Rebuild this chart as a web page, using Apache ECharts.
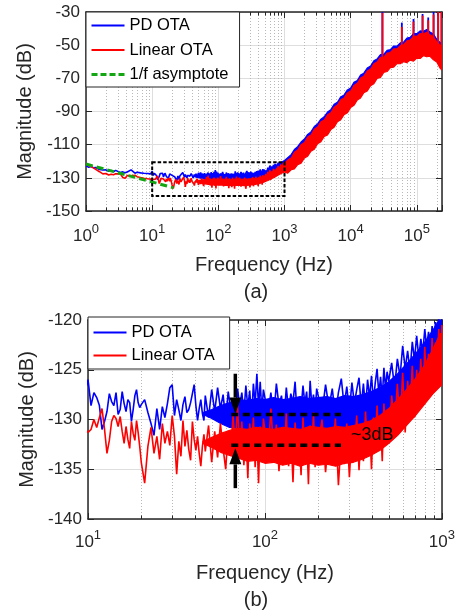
<!DOCTYPE html>
<html><head><meta charset="utf-8">
<script src="https://cdn.jsdelivr.net/npm/echarts@6/dist/echarts.min.js"></script>
<style>html,body{margin:0;padding:0;background:#fff}#c{width:458px;height:611px}</style>
</head><body><div id="c"></div>
<script>
// ---------------- data ----------------
const noiseFreq = [
 1.0,1.1,1.2,1.3,1.4,1.5,1.6,1.7,1.8,1.9,2.0,2.2,2.4,2.6,2.8,3.0,3.3,3.6,3.9,4.2,4.5,4.8,5.1,5.5,5.9,6.3,6.7,7.1,7.5,8.0,8.5,9.0,9.5,
 10.0,10.4,10.8,11.2,11.6,12.0,12.4,12.8,13.2,13.6,14.0,14.4,14.8,15.2,15.6,16.0,16.4,16.8,17.2,17.6,18.0,18.4,18.8,19.2,19.6,
 20.0,20.9,21.8,22.7,23.6,24.5,25.4,26.3,27.2,28.1,29.0,29.9,30.8,31.7,32.6,33.5,34.4,35.3,36.2,37.1,38.0,38.9,39.8,40.7,41.6,42.5,43.4,44.3,45.2,
 46,48,50,52,54,56,58,60,62,64,66,68,70,72,74,76,78,80,82,84,86,88,90,92,94,96,98,
 100,104,108,112,116,120,124,128,132,136,140,144,148,152,156,160,164,168,172,176,180,184,188,192,196,
 200,210,220,230,240,250,260,270,280,290,300,310,320,330,340,350,360,370,380,390,400,410,420,430,440,450,460,470,480,490,
 500,520,540,560,580,600,620,640,660,680,700,720,740,760,780,800,820,840,860,880,900,920,940,960,980,1000];
const pdNoise = [
 -122.8,-123.6,-123.2,-124.0,-123.8,-124.6,-125.0,-124.5,-125.3,-125.8,-125.2,-126.0,-125.6,-126.3,-125.5,-126.2,-126.8,-126.4,-127.0,-126.5,-125.6,-125.2,-126.3,-127.2,-126.6,-127.5,-127.0,-127.8,-127.2,-128.0,-127.4,-128.3,-127.6,
 -126.0,-128.6,-127.3,-127.8,-128.6,-131.0,-130.2,-129.2,-127.4,-128.2,-128.6,-127.3,-129.5,-129.0,-127.2,-128.4,-129.2,-128.0,-128.3,-130.2,-129.0,-127.6,-127.0,-128.3,-128.8,
 -128.5,-128.0,-129.3,-130.4,-131.6,-128.9,-131.0,-128.7,-129.8,-128.4,-126.8,-126.5,-129.6,-128.0,-129.0,-130.1,-128.5,-127.7,-129.3,-129.0,-128.3,-127.4,-126.5,-128.6,-130.1,-128.9,-128.0,-129.4,-130.1,
 -127.6,-129.8,-127.0,-129.2,-126.8,-128.9,-127.5,-130.0,-127.2,-129.0,-127.9,-129.6,-126.9,-128.7,-127.3,-129.4,-126.6,-128.8,-127.1,-129.9,-126.4,-128.5,-125.4,-128.8,-126.2,-129.3,-127.0,
 -126.9,-129.5,-127.3,-129.8,-126.4,-128.6,-127.6,-130.2,-126.8,-129.1,-127.4,-128.3,-126.2,-129.6,-127.8,-129.0,-126.6,-128.4,-127.2,-130.0,-126.1,-128.7,-127.5,-129.3,-126.9,
 -127.1,-129.4,-126.5,-128.8,-126.9,-129.6,-127.3,-125.9,-128.6,-126.7,-129.2,-126.3,-128.4,-127.0,-125.8,-128.7,-126.4,-128.9,-126.0,-127.8,-125.6,-128.2,-126.3,-124.9,-127.5,-125.7,-127.9,-124.8,-126.9,-125.2,
 -126.2,-124.3,-126.8,-123.9,-125.7,-122.6,-124.9,-123.1,-125.2,-122.2,-124.0,-121.6,-123.8,-121.9,-123.3,-120.9,-122.8,-121.2,-123.0,-120.6,-122.1,-120.2,-121.7,-119.8,-121.3,-119.6];
const linNoise = [
 -121.5,-122.6,-123.4,-124.0,-124.9,-125.5,-126.3,-127.0,-127.6,-128.0,-127.4,-128.3,-127.8,-128.2,-127.5,-126.8,-127.6,-129.8,-130.2,-128.6,-127.9,-128.8,-129.5,-128.4,-129.3,-128.6,-129.8,-128.9,-130.2,-129.4,-130.6,-129.7,-130.8,
 -131.3,-131.0,-130.0,-130.8,-129.8,-128.9,-131.0,-133.4,-132.1,-130.2,-129.6,-129.9,-130.7,-129.7,-131.2,-132.4,-130.7,-132.0,-132.9,-130.2,-131.4,-132.1,-130.1,-131.3,-132.7,
 -134.3,-136.4,-132.7,-130.8,-133.4,-131.7,-134.0,-130.4,-132.4,-131.2,-132.6,-129.6,-131.7,-135.5,-132.2,-133.7,-130.1,-132.7,-131.1,-133.0,-134.1,-130.2,-132.0,-133.1,-131.7,-133.4,-134.7,-132.7,-131.5,
 -133.2,-130.6,-134.3,-131.2,-133.8,-130.4,-132.9,-135.0,-131.1,-133.6,-129.6,-132.8,-128.6,-133.4,-130.2,-134.6,-131.0,-135.9,-130.4,-133.1,-129.8,-134.8,-131.3,-136.4,-130.7,-133.5,-129.9,
 -131.2,-134.1,-128.9,-133.3,-130.5,-135.2,-131.6,-133.9,-129.4,-134.7,-131.0,-136.3,-130.3,-133.6,-131.8,-135.6,-129.8,-134.0,-131.4,-136.5,-130.6,-133.2,-129.3,-134.8,-131.5,
 -132.5,-130.0,-135.3,-131.4,-133.9,-129.9,-136.6,-131.8,-134.5,-130.4,-135.8,-131.2,-133.7,-129.6,-135.1,-130.9,-134.2,-129.2,-133.6,-130.5,-135.0,-129.8,-133.1,-128.6,-132.7,-130.0,-134.2,-128.4,-132.0,-129.1,
 -132.4,-127.6,-131.0,-126.4,-130.7,-125.3,-131.3,-126.1,-129.4,-124.6,-129.8,-125.0,-128.3,-123.9,-128.6,-122.7,-127.2,-123.4,-126.9,-121.8,-126.0,-122.3,-125.4,-120.9,-124.8,-120.5];

const bandFreq = [44.7,50.1,56.2,63.1,70.8,79.4,89.1,100,112,126,141,158,178,200,224,251,282,316,355,398,447,501,562,631,708,794,891,1000,
 1120,1260,1410,1580,1780,2000,2240,2510,2820,3160,3550,3980,4470,5010,5620,6310,7080,7940,8910,
 10000,11200,12600,14100,15800,17800,20000,22400,25100,28200,31600,35500,39800,44700,50100,56200,63100,70800,79400,89100,
 100000,112000,126000,141000,158000,178000,200000,224000,240000];
const pdBandHi = [-129.3,-129.0,-128.6,-128.3,-128.0,-128.1,-127.9,-128.0,-127.8,-128.0,-127.9,-127.7,-127.9,-127.8,-127.7,-127.9,-127.6,-127.7,-127.5,-127.2,-126.8,-126.2,-125.4,-124.4,-123.4,-122.3,-121.0,-119.5,
 -117.8,-116.0,-112.9,-111.2,-108.4,-106.6,-103.8,-102.3,-99.1,-97.5,-94.6,-93.2,-90.3,-88.9,-85.7,-84.5,-81.2,-80.1,-77.0,
 -75.9,-72.4,-71.3,-68.0,-66.9,-63.8,-62.6,-59.4,-58.3,-55.7,-55.6,-53.1,-52.7,-50.5,-50.6,-48.6,-48.2,-45.7,-45.3,-43.0,
 -43.1,-41.4,-41.6,-40.6,-42.1,-43.3,-46.5,-48.3,-51.0];
const pdBandLo = [-129.5,-129.9,-130.4,-130.8,-130.9,-131.0,-131.0,-131.0,-131.1,-131.0,-131.0,-131.1,-131.0,-131.0,-131.1,-131.0,-131.0,-130.9,-130.8,-130.5,-130.1,-129.5,-128.8,-127.9,-126.8,-125.7,-124.6,-123.5,
 -125.6,-123.8,-123.0,-120.6,-119.6,-116.6,-115.4,-112.5,-111.2,-108.0,-106.8,-103.7,-102.5,-99.5,-98.0,-94.8,-93.5,-90.4,-89.3,
 -86.2,-84.8,-81.6,-80.3,-77.3,-76.1,-73.0,-71.8,-68.7,-67.9,-65.0,-64.5,-62.1,-61.8,-59.8,-59.8,-58.5,-59.0,-57.6,-58.2,
 -56.4,-56.6,-55.0,-55.6,-55.3,-57.4,-58.8,-62.4,-63.6];
const linBandHi = [-132.2,-131.8,-131.4,-131.1,-130.9,-131.0,-130.8,-130.9,-131.0,-130.8,-130.9,-131.0,-130.7,-130.8,-130.9,-130.7,-130.8,-130.6,-130.4,-130.1,-129.6,-128.9,-128.0,-127.0,-125.9,-124.6,-122.9,-121.0,
 -119.3,-118.0,-114.6,-113.2,-110.0,-108.7,-105.4,-104.2,-100.7,-99.4,-96.2,-95.1,-92.0,-90.8,-87.5,-86.1,-83.0,-81.9,-78.8,
 -77.6,-74.3,-73.0,-69.8,-68.7,-65.6,-64.4,-61.2,-60.1,-57.4,-57.3,-54.8,-54.4,-52.2,-52.2,-50.3,-49.8,-47.4,-46.9,-44.6,
 -44.7,-43.0,-43.3,-42.2,-43.7,-44.9,-48.0,-49.8,-52.6];
const linBandLo = [-132.4,-132.8,-133.3,-133.6,-133.9,-134.2,-134.1,-134.4,-134.3,-134.6,-134.4,-134.7,-134.4,-134.6,-134.5,-134.7,-134.4,-134.3,-134.0,-133.6,-133.1,-132.4,-131.6,-130.6,-129.6,-128.5,-127.4,-126.5,
 -127.2,-125.1,-124.6,-122.1,-121.2,-118.0,-116.9,-113.9,-112.8,-109.4,-108.2,-105.1,-104.1,-100.9,-99.5,-96.2,-95.0,-91.9,-90.8,
 -87.6,-86.3,-83.0,-81.8,-78.7,-77.6,-74.4,-73.2,-70.1,-69.4,-66.4,-65.9,-63.5,-63.2,-61.1,-61.2,-59.9,-60.5,-59.0,-59.6,
 -57.8,-58.0,-56.3,-57.0,-56.7,-58.8,-60.1,-63.8,-65.0];

const spikeFreq = [30200,59300,89100,122000,148600,179000,210000,236000];
const spikeBase = [-62,-57,-53,-50,-50,-52,-55,-58];
const pdSpikeTop = [-30,-36.4,-34.2,-31.2,-33.3,-30,-30,-30];
const linSpikeTop = [-30.5,-39.0,-35.8,-32.2,-35.0,-31.5,-30,-30];

const asymFreq = [1, 21];
const asymDb = [-121.7, -136.0];

const zoomBoxFreq = [10, 1000];
const zoomBoxDb = [-120.6, -141.0];

const levelFreq = [64.5, 269];
const levelDb = [-129.5, -132.6];
const arrowFreq = 68;
const downArrowDb = [-125.4, -129.4];
const upArrowDb = [-136.9, -132.9];
const noteFreq = 306, noteDb = -131.6, noteText = '~3dB';

const minorTop = [2,3,4,5,6,7,8,9,20,30,40,50,60,70,80,90,200,300,400,500,600,700,800,900,
 2000,3000,4000,5000,6000,7000,8000,9000,20000,30000,40000,50000,60000,70000,80000,90000,200000];
const minorBottom = [20,30,40,50,60,70,80,90,200,300,400,500,600,700,800,900];

const legendTop = ['PD OTA', 'Linear OTA', '1/f asymptote'];
const legendBottom = ['PD OTA', 'Linear OTA'];
const xName = 'Frequency (Hz)', yName = 'Magnitude (dB)';
const panelTags = ['(a)', '(b)'];

// ---------------- styling / layout ----------------
const FONT = '"Liberation Sans", Arial, sans-serif';
const INK = '#262626';
const BLUE = '#0000ff', RED = '#ff0000', GREEN = '#12a612';

const panes = [
  {grid: {left: 86, top: 12, width: 356, height: 199}, xMin: 1, xMax: 240000, yMin: -150, yMax: -30, yStep: 20, labelMargin: 12, minor: minorTop, tagY: 292},
  {grid: {left: 88, top: 320, width: 355, height: 199}, xMin: 10, xMax: 1000, yMin: -140, yMax: -120, yStep: 5, labelMargin: 10, minor: minorBottom, tagY: 600}
];

function decadeLabel(v) {
  const e = Math.round(Math.log10(v));
  if (Math.abs(v - Math.pow(10, e)) > 1e-6 * v) return '';
  return '{b|10}{s|' + e + '}';
}

const xAxes = [], yAxes = [], grids = [], series = [];
panes.forEach((P, pi) => {
  grids.push(Object.assign({containLabel: false, show: false}, P.grid));
  const lineCommon = {show: true, onZero: false, lineStyle: {color: INK, width: 1.5}};
  xAxes.push({
    type: 'log', logBase: 10, gridIndex: pi, min: P.xMin, max: P.xMax, position: 'bottom',
    axisLine: lineCommon,
    axisTick: {show: true, inside: true, length: 6, lineStyle: {color: INK, width: 1}},
    splitLine: {show: true, lineStyle: {color: '#dedede', width: 1}},
    axisLabel: {margin: P.labelMargin, formatter: decadeLabel, color: INK,
      rich: {b: {fontSize: 17, lineHeight: 26, fontFamily: FONT, color: INK},
             s: {fontSize: 13, lineHeight: 13, verticalAlign: 'top', fontFamily: FONT, color: INK}}},
    name: xName, nameLocation: 'middle', nameGap: 44,
    nameTextStyle: {fontSize: 20, fontFamily: FONT, color: INK}
  });
  xAxes.push({
    type: 'log', logBase: 10, gridIndex: pi, min: P.xMin, max: P.xMax, position: 'top',
    axisLine: lineCommon,
    axisTick: {show: true, inside: true, length: 6, lineStyle: {color: INK, width: 1}},
    splitLine: {show: false}, axisLabel: {show: false}
  });
  yAxes.push({
    type: 'value', gridIndex: pi, min: P.yMin, max: P.yMax, interval: P.yStep, position: 'left',
    axisLine: lineCommon,
    axisTick: {show: true, inside: true, length: 6, lineStyle: {color: INK, width: 1}},
    splitLine: {show: true, lineStyle: {color: '#dedede', width: 1}},
    axisLabel: {margin: 6, fontSize: 17, fontFamily: FONT, color: INK},
    name: yName, nameLocation: 'middle', nameGap: 50,
    nameTextStyle: {fontSize: 20, fontFamily: FONT, color: INK}
  });
  yAxes.push({
    type: 'value', gridIndex: pi, min: P.yMin, max: P.yMax, interval: P.yStep, position: 'right',
    axisLine: lineCommon,
    axisTick: {show: true, inside: true, length: 6, lineStyle: {color: INK, width: 1}},
    splitLine: {show: false}, axisLabel: {show: false}
  });

  const xi = pi * 2, yi = pi * 2;
  // minor (dotted) grid and minor ticks
  series.push({
    type: 'custom', xAxisIndex: xi, yAxisIndex: yi, z: 1, silent: true, clip: true,
    data: P.minor.map(v => [v, P.yMin]),
    renderItem: (params, api) => {
      const v = api.value(0);
      const a = api.coord([v, P.yMin]), b = api.coord([v, P.yMax]);
      const x = Math.round(a[0]) + 0.5;
      return {type: 'group', children: [
        {type: 'line', shape: {x1: x, y1: a[1], x2: x, y2: b[1]}, style: {stroke: '#b8b8b8', lineWidth: 1, lineDash: [1, 2]}},
        {type: 'line', shape: {x1: x, y1: a[1], x2: x, y2: a[1] - 3.5}, style: {stroke: INK, lineWidth: 1}},
        {type: 'line', shape: {x1: x, y1: b[1], x2: x, y2: b[1] + 3.5}, style: {stroke: INK, lineWidth: 1}}
      ]};
    }
  });

  function noiseLine(name, vals, color) {
    return {type: 'line', name, xAxisIndex: xi, yAxisIndex: yi, symbol: 'none', showSymbol: false,
      silent: true, clip: true, z: 2,
      data: noiseFreq.map((f, i) => [f, vals[i]]),
      lineStyle: {color, width: 1.6}, itemStyle: {color}};
  }
  function band(name, hi, lo, color) {
    return {type: 'custom', name, xAxisIndex: xi, yAxisIndex: yi, z: 2, silent: true, clip: true,
      itemStyle: {color},
      data: [[bandFreq[0], hi[0]]],
      renderItem: (params, api) => {
        const pts = [];
        for (let i = 0; i < bandFreq.length; i++) pts.push(api.coord([bandFreq[i], hi[i]]));
        for (let i = bandFreq.length - 1; i >= 0; i--) pts.push(api.coord([bandFreq[i], lo[i]]));
        return {type: 'polygon', shape: {points: pts}, style: {fill: color, stroke: color, lineWidth: 1.2, lineJoin: 'round'}};
      }};
  }
  function spikes(name, tops, color) {
    return {type: 'custom', name, xAxisIndex: xi, yAxisIndex: yi, z: 2, silent: true, clip: true,
      itemStyle: {color},
      data: spikeFreq.map((f, i) => [f, spikeBase[i], tops[i]]),
      renderItem: (params, api) => {
        const a = api.coord([api.value(0), api.value(1)]);
        const b = api.coord([api.value(0), api.value(2)]);
        return {type: 'line', shape: {x1: a[0], y1: a[1], x2: b[0], y2: b[1]}, style: {stroke: color, lineWidth: 1.8}};
      }};
  }

  series.push(noiseLine('PD OTA', pdNoise, BLUE));
  series.push(band('PD OTA', pdBandHi, pdBandLo, BLUE));
  if (pi === 0) series.push(spikes('PD OTA', pdSpikeTop, BLUE));
  series.push(noiseLine('Linear OTA', linNoise, RED));
  series.push(band('Linear OTA', linBandHi, linBandLo, RED));
  if (pi === 0) series.push(spikes('Linear OTA', linSpikeTop, RED));

  if (pi === 0) {
    series.push({type: 'line', name: '1/f asymptote', xAxisIndex: xi, yAxisIndex: yi, symbol: 'none', silent: true, z: 3,
      data: asymFreq.map((f, i) => [f, asymDb[i]]),
      lineStyle: {color: GREEN, width: 3, type: [7, 4]}, itemStyle: {color: GREEN}});
    series.push({type: 'custom', xAxisIndex: xi, yAxisIndex: yi, z: 4, silent: true, clip: false,
      data: [[zoomBoxFreq[0], zoomBoxDb[0], zoomBoxFreq[1], zoomBoxDb[1]]],
      renderItem: (params, api) => {
        const a = api.coord([api.value(0), api.value(1)]);
        const b = api.coord([api.value(2), api.value(3)]);
        return {type: 'rect', shape: {x: a[0], y: a[1], width: b[0] - a[0], height: b[1] - a[1]},
          style: {fill: 'none', stroke: '#000', lineWidth: 2, lineDash: [3.5, 2]}};
      }});
  } else {
    series.push({type: 'custom', xAxisIndex: xi, yAxisIndex: yi, z: 4, silent: true, clip: false,
      data: levelDb.map(d => [levelFreq[0], d, levelFreq[1]]),
      renderItem: (params, api) => {
        const a = api.coord([api.value(0), api.value(1)]);
        const b = api.coord([api.value(2), api.value(1)]);
        return {type: 'line', shape: {x1: a[0], y1: a[1], x2: b[0], y2: b[1]},
          style: {stroke: '#000', lineWidth: 3.5, lineDash: [7, 4.5]}};
      }});
    series.push({type: 'custom', xAxisIndex: xi, yAxisIndex: yi, z: 4, silent: true, clip: false,
      data: [[arrowFreq, downArrowDb[0], downArrowDb[1]], [arrowFreq, upArrowDb[0], upArrowDb[1]]],
      renderItem: (params, api) => {
        const a = api.coord([api.value(0), api.value(1)]);
        const t = api.coord([api.value(0), api.value(2)]);
        const dir = Math.sign(t[1] - a[1]);
        const hb = t[1] - dir * 16;
        return {type: 'group', children: [
          {type: 'line', shape: {x1: a[0], y1: a[1], x2: a[0], y2: hb}, style: {stroke: '#000', lineWidth: 3.5}},
          {type: 'polygon', shape: {points: [[t[0], t[1]], [t[0] - 6, hb], [t[0] + 6, hb]]}, style: {fill: '#000'}}
        ]};
      }});
    series.push({type: 'custom', xAxisIndex: xi, yAxisIndex: yi, z: 4, silent: true, clip: false,
      data: [[noteFreq, noteDb]],
      renderItem: (params, api) => {
        const p = api.coord([api.value(0), api.value(1)]);
        return {type: 'text', x: p[0], y: p[1],
          style: {text: noteText, fontSize: 18, fontFamily: FONT, fill: '#000', align: 'left', verticalAlign: 'middle'}};
      }});
  }
});

const legendCommon = {orient: 'vertical', itemWidth: 33, itemHeight: 16, selectedMode: false,
  backgroundColor: '#fff', borderColor: INK, borderWidth: 1, borderRadius: 0, z: 10,
  itemStyle: {opacity: 0},
  textStyle: {fontSize: 16.5, fontFamily: FONT, color: '#000'}};
const legendStyle = {
  'PD OTA': {lineStyle: {color: BLUE, width: 2, type: 'solid'}},
  'Linear OTA': {lineStyle: {color: RED, width: 2, type: 'solid'}},
  '1/f asymptote': {lineStyle: {color: GREEN, width: 3, type: [6, 3]}}
};
const option = {
  animation: false,
  backgroundColor: '#fff',
  grid: grids, xAxis: xAxes, yAxis: yAxes, series,
  legend: [
    Object.assign({}, legendCommon, {left: 86, top: 12, itemGap: 7.5, padding: [5, 11, 4, 4],
      data: legendTop.map(n => Object.assign({name: n, itemStyle: {opacity: 0}}, legendStyle[n]))}),
    Object.assign({}, legendCommon, {left: 88, top: 317, itemGap: 6, padding: [7, 15, 5, 4.5],
      data: legendBottom.map(n => Object.assign({name: n, itemStyle: {opacity: 0}}, legendStyle[n]))})
  ],
  graphic: panes.map((P, i) => ({type: 'text', x: 256, y: P.tagY, silent: true,
    style: {text: panelTags[i], fontSize: 20, fontFamily: FONT, fill: INK, align: 'center', verticalAlign: 'middle'}}))
};
const chart = echarts.init(document.getElementById('c'));
chart.setOption(option);
</script>
</body></html>
